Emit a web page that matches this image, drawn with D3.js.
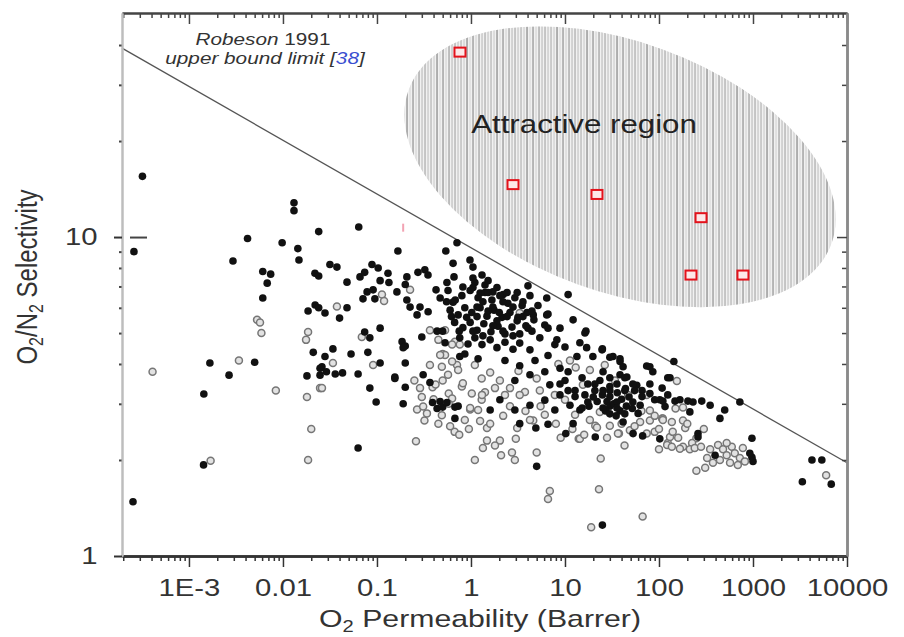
<!DOCTYPE html>
<html>
<head>
<meta charset="utf-8">
<script src="https://cdn.jsdelivr.net/npm/d3@7"></script>
<style>
  body { margin: 0; background: #fff; }
  text { font-family: "Liberation Sans", Arial, sans-serif; }
</style>
</head>
<body>
<div id="chart"></div>
<script>
// O2 permeability (Barrer) vs O2/N2 selectivity
const filledPts = [
  [2.6e-4, 9.0], [3.2e-4, 15.5], [1.67e-3, 4.03], [5.0e-3, 4.05], [2.67e-3, 3.69], [1.44e-3, 3.22],
  [0.018, 3.67], [1.43e-3, 1.93], [2.54e-4, 1.48], [0.021, 4.35], [0.0248, 3.88], [0.0248, 3.69],
  [0.0131, 12.8], [0.0131, 12.1], [4.2e-3, 9.9], [9.8e-3, 9.6], [0.0144, 9.2], [0.0148, 8.47],
  [0.024, 10.4], [2.94e-3, 8.41], [6.1e-3, 7.8], [7.4e-3, 7.65], [6.8e-3, 7.17], [6.1e-3, 6.44],
  [0.0219, 7.7], [0.024, 7.55], [0.022, 6.12], [0.024, 6.0], [0.0185, 5.86],
  [0.064, 10.75], [0.167, 9.04], [0.54, 9.04], [0.71, 9.6], [0.0316, 8.2], [0.0375, 8.05],
  [0.048, 7.22], [0.066, 7.5], [0.0885, 8.2], [0.103, 8.0], [0.074, 7.75], [0.131, 7.7],
  [0.108, 7.3], [0.134, 7.2], [0.208, 7.5], [0.273, 7.75], [0.323, 7.9], [0.349, 7.6], [0.2, 7.1],
  [0.163, 6.73], [0.091, 6.83], [0.0785, 6.73], [0.071, 6.4], [0.095, 6.4], [0.208, 6.35],
  [0.225, 6.03], [0.287, 6.03], [0.35, 5.83], [0.267, 5.7], [0.425, 6.83], [0.47, 6.44],
  [0.555, 7.2], [0.66, 7.5], [0.645, 8.27], [0.976, 8.47], [1.05, 8.05], [0.82, 6.97],
  [1.05, 7.44], [1.31, 7.6], [1.41, 7.07], [1.25, 6.68], [0.645, 6.25], [0.028, 5.78],
  [0.048, 6.0], [0.04, 5.57], [0.108, 5.18], [0.074, 5.04], [0.084, 4.83], [0.034, 4.46],
  [0.028, 4.22], [0.053, 4.3], [0.08, 4.35], [0.026, 3.92], [0.029, 3.78], [0.036, 3.72],
  [0.043, 3.75], [0.063, 3.72], [0.108, 4.03], [0.155, 3.64], [0.185, 4.7], [0.2, 4.55],
  [0.19, 4.5], [0.2, 4.03], [0.3, 4.86], [0.436, 5.07], [0.5, 5.07], [0.53, 4.66], [0.76, 4.22],
  [0.31, 3.7], [0.084, 3.36], [0.098, 3.04], [0.155, 3.6], [0.2, 3.38], [0.19, 3.0], [0.366, 3.5],
  [0.39, 3.03], [0.436, 2.9], [0.47, 3.05], [0.5, 2.93], [0.555, 3.03], [0.675, 2.93],
  [0.675, 2.7], [0.73, 2.95], [0.063, 2.18],
  [4.04, 7.03], [10.8, 6.6], [6.4, 6.44], [6.6, 5.74], [12.2, 5.5], [16.7, 5.07], [6.6, 5.18],
  [8.85, 5.18], [4.6, 5.7], [1.71, 6.73], [2.2, 6.6], [8.2, 4.76], [10, 4.52], [14.4, 4.66],
  [17, 4.5], [19.8, 4.22], [13.4, 4.22], [25, 4.46], [32.4, 4.22], [38.5, 4.07], [41.5, 3.92],
  [74, 3.94], [86, 3.78], [124, 3.62], [108, 3.36], [45.5, 3.64], [58, 3.43], [80, 3.23],
  [102, 3.09], [116, 2.94],
  [5.0, 1.91], [25, 1.25], [21, 2.36], [10.2, 2.42], [4.9, 2.52], [3.3, 2.6], [6.6, 2.59],
  [12.2, 2.6], [41.5, 2.63], [53, 2.42], [102, 2.33],
  [144, 4.07], [131, 3.62], [110, 3.06], [148, 3.06], [203, 3.06], [230, 3.04], [285, 3.06],
  [445, 2.7], [975, 2.34], [260, 2.42], [395, 2.07], [975, 2.04], [1000, 1.98], [925, 2.1],
  [4240, 2.0], [5400, 2.0], [3350, 1.71], [6800, 1.68],
  [6.4, 5.7], [16.3, 5.0], [24.8, 4.43], [30, 4.2], [38.5, 4.15], [80, 3.92],
  [28, 3.05], [30, 2.95], [33, 3.0], [38.5, 2.85], [45, 2.95], [35, 2.75], [27, 2.85], [22, 3.05],
  [40, 3.1], [48, 3.15], [52, 2.9], [60, 2.8], [25, 3.2], [20, 3.15], [18, 2.95], [36, 3.25],
  [44, 3.35], [30, 3.4], [67, 2.38], [260, 2.36],
  [0.57, 6.8], [0.68, 6.35], [0.8, 6.55], [0.98, 6.8], [1.19, 6.45], [1.41, 6.7], [1.67, 6.35],
  [2.03, 6.55], [2.47, 6.2], [2.93, 6.45], [3.5, 6.1], [0.6, 5.9], [0.73, 5.7], [0.86, 6.0],
  [1.02, 5.8], [1.25, 6.0], [1.48, 5.65], [1.76, 5.9], [2.14, 5.6], [2.6, 5.8], [3.16, 5.6],
  [3.94, 5.8], [4.67, 5.5], [0.67, 5.4], [0.82, 5.2], [0.98, 5.4], [1.16, 5.1], [1.37, 5.35],
  [1.63, 5.05], [1.94, 5.25], [2.3, 4.97], [2.73, 5.22], [3.3, 4.97], [4.04, 5.18], [0.76, 4.83],
  [0.93, 4.62], [1.1, 4.83], [1.31, 4.6], [1.6, 4.76], [1.89, 4.5], [2.3, 4.68], [2.8, 4.45],
  [3.3, 4.65], [4.24, 4.43], [5.4, 4.83], [6.1, 5.3], [5.16, 6.1], [4.24, 6.55], [1.1, 7.2],
  [1.52, 7.3], [0.86, 4.3], [1.19, 4.15], [2.3, 4.1], [3.3, 3.95], [4.8, 4.1], [6.6, 4.25],
  [7.8, 4.6], [8.85, 3.88], [6.1, 3.78], [4.24, 3.7], [2.93, 3.55], [6.9, 3.44], [10, 3.55],
  [12.8, 3.3], [16.3, 3.2], [8.85, 3.2], [6.1, 3.08], [11.3, 2.97], [7.8, 2.87], [14.4, 2.87],
  [4.24, 2.97], [2.93, 2.87], [2.03, 3.09], [1.6, 2.87], [23.5, 3.55], [30, 3.3], [38.5, 3.7],
  [55, 3.3], [63, 2.97], [90, 3.09], [124, 3.2], [167, 3.09], [213, 2.83], [350, 2.97],
  [500, 2.87], [725, 3.04],
  [1.05, 6.95], [1.34, 6.27], [1.71, 6.03], [2.19, 6.27], [2.8, 6.03], [3.57, 6.27], [1.16, 5.63],
  [1.52, 5.86], [1.89, 5.46], [2.42, 5.63], [3.1, 5.46], [3.84, 5.27], [1.05, 5.07], [1.34, 4.9],
  [1.71, 5.27], [2.19, 5.07], [2.8, 4.9], [3.57, 5.63], [4.45, 5.07], [1.52, 6.7], [1.89, 6.95],
  [2.42, 6.7], [0.9, 5.6], [0.75, 5.07], [0.62, 5.63], [0.55, 6.27], [4.45, 5.86], [3.1, 6.7],
  [1.16, 6.03], [2.0, 5.8],
  [10.8, 3.78], [15.2, 3.62], [20.8, 3.46], [25.4, 3.78], [30, 3.62], [35.7, 3.46], [43.3, 3.3],
  [52.7, 3.46], [66, 3.3], [80, 3.46], [12.8, 3.16], [17.5, 3.04], [20.8, 3.3], [25.4, 2.91],
  [30, 3.16], [35.7, 3.04], [43.3, 2.79], [52.7, 3.04], [66, 3.16], [17.5, 3.46], [25.4, 3.3],
  [35.7, 2.91], [43.3, 3.62], [30, 2.79], [15.2, 2.91], [10.8, 3.3], [8.85, 3.46]
];

const hollowPts = [
  [4.1e-4, 3.78], [3.4e-3, 4.1], [8.4e-3, 3.3], [0.018, 3.15], [0.020, 2.5], [0.0185, 2.0],
  [1.7e-3, 1.99], [0.0248, 3.36], [5.3e-3, 5.5], [5.7e-3, 5.4], [5.9e-3, 5.0], [0.0185, 5.04],
  [0.0176, 4.76], [0.225, 6.83], [0.113, 6.6], [0.119, 6.3], [0.0375, 6.06], [0.069, 4.86],
  [0.034, 4.03], [0.091, 3.97], [0.366, 3.97], [0.5, 4.3], [0.49, 3.92], [0.675, 4.7],
  [0.76, 4.6], [0.71, 3.97], [0.026, 3.36], [0.287, 3.36], [0.39, 3.38], [0.5, 3.55], [0.8, 3.4],
  [0.267, 2.88], [0.31, 2.94], [0.32, 2.66], [0.34, 2.8], [0.49, 2.76], [0.58, 3.23], [0.63, 3.12],
  [0.98, 2.88], [1.02, 3.23], [1.3, 3.09], [1.41, 3.26], [0.26, 2.29], [1.48, 2.3], [1.34, 2.18],
  [1.1, 2.0], [3.3, 5.78],
  [2.03, 2.3], [1.8, 2.22], [2.09, 2.07], [2.73, 2.11], [2.93, 2.0], [3.0, 2.33], [5.0, 2.11],
  [6.9, 1.6], [6.6, 1.51], [24, 2.02], [23, 1.62], [19, 1.23], [67, 1.33], [14, 2.33], [21, 2.56],
  [30, 2.56], [37.5, 2.42], [3.1, 2.52], [4.6, 2.66], [74, 2.42], [100, 2.16], [124, 2.26],
  [108, 2.7], [80, 2.66], [90, 2.45],
  [155, 3.54], [180, 2.92], [180, 2.66], [137, 2.63], [110, 2.7], [190, 2.52], [250, 2.34],
  [225, 2.26], [180, 2.2], [131, 2.36], [122, 2.23], [137, 2.2], [213, 2.16], [167, 2.17],
  [240, 2.18], [250, 1.85], [310, 1.89], [350, 2.16], [425, 2.23], [480, 2.16], [525, 2.07],
  [595, 2.2], [640, 2.1], [725, 2.03], [780, 2.18], [820, 1.98], [445, 2.0], [570, 1.96],
  [375, 1.96], [690, 1.93], [325, 2.03], [525, 2.26], [6000, 1.79],
  [0.82, 3.48], [0.98, 2.91], [1.48, 2.52], [14.4, 2.33], [21.9, 2.53], [36.6, 2.42], [74, 3.2],
  [80, 2.86], [110, 2.67],
  [0.366, 5.1], [0.45, 4.76], [0.53, 4.27], [0.63, 4.07], [0.57, 3.7], [0.73, 3.83], [1.1, 3.97],
  [1.6, 3.76], [2.03, 3.55], [2.6, 3.36], [3.75, 3.27], [5.4, 3.3], [7.8, 3.2], [10, 3.09],
  [12.8, 2.77], [18.4, 2.67], [23.5, 2.83], [6.1, 2.77], [4.24, 2.67], [3.3, 3.2], [2.3, 3.2],
  [1.8, 3.36], [1.31, 3.2], [1.19, 2.87], [0.86, 2.67], [0.67, 2.45], [0.53, 5.1], [0.63, 4.6],
  [0.47, 4.27], [49, 2.48], [63, 2.63], [43, 2.22], [18.4, 3.83], [26.5, 3.97], [34, 3.55],
  [47, 3.2], [15.5, 3.44], [11.3, 4.1],
  [0.4, 3.1], [0.45, 2.6], [0.6, 2.55], [0.75, 2.4], [0.95, 2.5], [1.25, 2.65], [1.6, 2.6],
  [2.2, 2.75], [2.6, 2.95], [3.8, 2.85], [5.5, 2.95], [8, 2.6], [9, 2.35], [12, 2.5], [16, 2.4],
  [28, 2.35], [40, 2.6], [55, 2.55], [65, 2.85], [90, 2.75], [140, 2.45], [150, 2.9], [200, 2.6],
  [280, 2.2], [300, 2.5], [160, 2.35], [100, 2.5], [0.58, 3.0], [0.42, 3.45], [0.3, 3.15],
  [0.25, 3.55], [8.5, 4.0], [13, 3.9], [5, 3.6], [3.2, 3.8], [1.3, 3.6]
];

// red squares inside the attractive region
const attractivePts = [[0.764, 38], [2.8, 14.6], [21.9, 13.6], [280, 11.5], [219, 7.6], [782, 7.6]];
const pinkPt = [0.19, 10.7];

// Robeson 1991 upper bound, two end points
const robeson = [[1.94e-4, 39.1], [1e4, 1.96]];
// centre of the shaded ellipse
const regionCentre = [38.5, 16.6];

const xMajor = [1e-3, 0.01, 0.1, 1, 10, 100, 1000, 10000];
const xLabels = ["1E-3", "0.01", "0.1", "1", "10", "100", "1000", "10000"];
const yMajor = [1, 10];
const yLabels = ["1", "10"];

const width = 904, height = 637;
const L = 122, R = 847, T = 13, B = 556;

const x = d3.scaleLog().domain([1.94e-4, 1e4]).range([L, R]);
const y = d3.scaleLog().domain([1, 50.4]).range([B, T]);

const isPow = d => Math.abs(Math.log10(d) - Math.round(Math.log10(d))) < 1e-9;
const xMinor = x.ticks().filter(d => !isPow(d));
const yMinor = y.ticks().filter(d => !isPow(d) && d < 50);

const svg = d3.select("#chart").append("svg")
  .attr("width", width).attr("height", height);

// hatched region
const defs = svg.append("defs");
const cx = x(regionCentre[0]), cy = y(regionCentre[1]);
defs.append("clipPath").attr("id", "ell")
  .append("ellipse")
  .attr("cx", 0).attr("cy", 0).attr("rx", 225).attr("ry", 125)
  .attr("transform", `translate(${cx},${cy}) rotate(20)`);

const hatch = svg.append("g").attr("clip-path", "url(#ell)");
hatch.append("rect").attr("x", cx - 230).attr("y", cy - 150)
  .attr("width", 460).attr("height", 300).attr("fill", "#f1f1f1");
const greys = ["#9a9a9a", "#c8c8c8", "#7c7c7c", "#b4b4b4", "#a6a6a6", "#d6d6d6", "#8c8c8c", "#bcbcbc", "#6e6e6e", "#cfcfcf"];
hatch.selectAll("line")
  .data(d3.range(cx - 225, cx + 225, 3))
  .enter().append("line")
  .attr("x1", d => d).attr("x2", d => d)
  .attr("y1", cy - 150).attr("y2", cy + 150)
  .attr("stroke", (d, i) => greys[(i * 7) % greys.length])
  .attr("stroke-width", 1);

// upper bound line
svg.append("path")
  .datum(robeson)
  .attr("d", d3.line().x(d => x(d[0])).y(d => y(d[1])))
  .attr("fill", "none").attr("stroke", "#555").attr("stroke-width", 1.3);

// data
svg.append("g").selectAll("circle")
  .data(hollowPts).enter().append("circle")
  .attr("cx", d => x(d[0])).attr("cy", d => y(d[1])).attr("r", 3.5)
  .attr("fill", "#e2e2e2").attr("stroke", "#767676").attr("stroke-width", 1.5);

svg.append("g").selectAll("circle")
  .data(filledPts).enter().append("circle")
  .attr("cx", d => x(d[0])).attr("cy", d => y(d[1])).attr("r", 3.8)
  .attr("fill", "#111");

svg.append("g").selectAll("rect")
  .data(attractivePts).enter().append("rect")
  .attr("x", d => x(d[0]) - 5.5).attr("y", d => y(d[1]) - 4.5)
  .attr("width", 11).attr("height", 9)
  .attr("fill", "#fde8e8").attr("stroke", "#e3121b").attr("stroke-width", 2);

svg.append("line")
  .attr("x1", x(pinkPt[0])).attr("x2", x(pinkPt[0]))
  .attr("y1", y(pinkPt[1]) - 4).attr("y2", y(pinkPt[1]) + 4)
  .attr("stroke", "#f2a3b3").attr("stroke-width", 2);

// axes
function styleAxis(g, color, w) {
  g.select(".domain").attr("stroke", color).attr("stroke-width", w);
  g.selectAll(".tick line").attr("stroke", color).attr("stroke-width", 1.5);
}
const noLab = () => "";

const bottomMinor = svg.append("g").attr("transform", `translate(0,${B})`)
  .call(d3.axisBottom(x).tickValues(xMinor).tickSize(5).tickFormat(noLab).tickSizeOuter(0));
styleAxis(bottomMinor, "#333", 2.5);
const bottomMajor = svg.append("g").attr("transform", `translate(0,${B})`)
  .call(d3.axisBottom(x).tickValues(xMajor).tickSize(11).tickSizeOuter(0)
    .tickFormat((d, i) => xLabels[i]));
styleAxis(bottomMajor, "#333", 2.5);
bottomMajor.selectAll("text")
  .attr("y", 23).attr("dy", "0.71em").attr("fill", "#333")
  .style("font-size", "24px").attr("transform", "scale(1.22,1)");

const topMinor = svg.append("g").attr("transform", `translate(0,${T})`)
  .call(d3.axisTop(x).tickValues(xMinor).tickSize(-5).tickFormat(noLab).tickSizeOuter(0));
styleAxis(topMinor, "#444", 2);
const topMajor = svg.append("g").attr("transform", `translate(0,${T})`)
  .call(d3.axisTop(x).tickValues(xMajor).tickSize(-11).tickFormat(noLab).tickSizeOuter(0));
styleAxis(topMajor, "#444", 2);

const leftMinor = svg.append("g").attr("transform", `translate(${L},0)`)
  .call(d3.axisLeft(y).tickValues(yMinor).tickSize(3).tickFormat(noLab).tickSizeOuter(0));
styleAxis(leftMinor, "#bdbdbd", 2);
leftMinor.selectAll(".tick line").attr("stroke", "#444").attr("stroke-width", 2);
const leftMajor = svg.append("g").attr("transform", `translate(${L},0)`)
  .call(d3.axisLeft(y).tickValues(yMajor).tickSize(8).tickSizeOuter(0)
    .tickFormat((d, i) => yLabels[i]));
styleAxis(leftMajor, "#bdbdbd", 2);
leftMajor.selectAll(".tick line").attr("stroke", "#333").attr("stroke-width", 2);
leftMajor.selectAll("text")
  .attr("x", -20).attr("fill", "#333")
  .style("font-size", "24px").attr("transform", "scale(1.22,1)");
// short inward dash at 10
leftMajor.selectAll(".tick").filter(d => d === 10).append("line")
  .attr("x1", 8).attr("x2", 25).attr("stroke", "#444").attr("stroke-width", 2);

const rightMinor = svg.append("g").attr("transform", `translate(${R},0)`)
  .call(d3.axisRight(y).tickValues(yMinor).tickSize(-5).tickFormat(noLab).tickSizeOuter(0));
styleAxis(rightMinor, "#8a8a8a", 2.5);
rightMinor.selectAll(".tick line").attr("stroke", "#444");
const rightMajor = svg.append("g").attr("transform", `translate(${R},0)`)
  .call(d3.axisRight(y).tickValues(yMajor).tickSize(-10).tickFormat(noLab).tickSizeOuter(0));
styleAxis(rightMajor, "#8a8a8a", 2.5);
rightMajor.selectAll(".tick line").attr("stroke", "#444");

// titles
const xt = svg.append("text")
  .attr("transform", `translate(480,627) scale(1.26,1)`)
  .attr("text-anchor", "middle").attr("fill", "#333").style("font-size", "24px");
xt.append("tspan").text("O");
xt.append("tspan").attr("dy", 5).style("font-size", "16px").text("2");
xt.append("tspan").attr("dy", -5).text(" Permeability (Barrer)");

const yt = svg.append("text")
  .attr("transform", `translate(37,277) rotate(-90) scale(1,1.22)`)
  .attr("text-anchor", "middle").attr("fill", "#333").style("font-size", "24px");
yt.append("tspan").text("O");
yt.append("tspan").attr("dy", 5).style("font-size", "16px").text("2");
yt.append("tspan").attr("dy", -5).text("/N");
yt.append("tspan").attr("dy", 5).style("font-size", "16px").text("2");
yt.append("tspan").attr("dy", -5).text(" Selectivity");

// annotations
const a1 = svg.append("text")
  .attr("transform", "translate(263,45) scale(1.22,1)")
  .attr("text-anchor", "middle").attr("fill", "#333").style("font-size", "17px");
a1.append("tspan").style("font-style", "italic").text("Robeson ");
a1.append("tspan").text("1991");

const a2 = svg.append("text")
  .attr("transform", "translate(265,64) scale(1.22,1)")
  .attr("text-anchor", "middle").attr("fill", "#333")
  .style("font-size", "17px").style("font-style", "italic");
a2.append("tspan").text("upper bound limit [");
a2.append("tspan").attr("fill", "#3a4fd0").text("38");
a2.append("tspan").text("]");

svg.append("text")
  .attr("transform", "translate(584,133) scale(1.25,1)")
  .attr("text-anchor", "middle").attr("fill", "#222")
  .style("font-size", "25px").text("Attractive region");
</script>
</body>
</html>
